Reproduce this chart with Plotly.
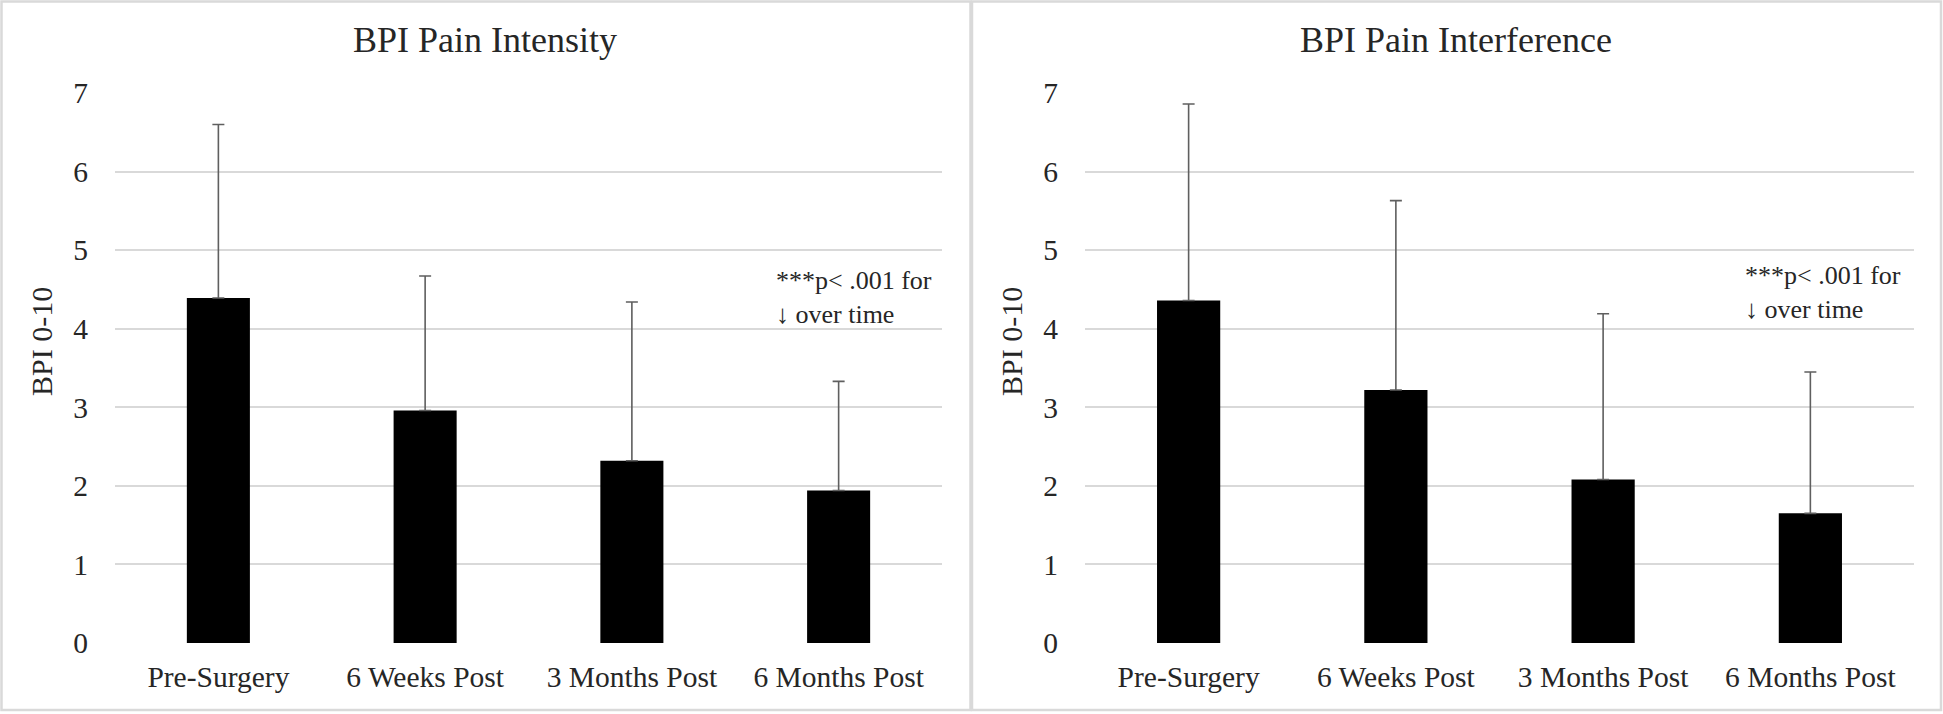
import plotly.graph_objects as go

# ---- data ----
categories = ["Pre-Surgery", "6 Weeks Post", "3 Months Post", "6 Months Post"]
intensity_mean = [4.39, 2.96, 2.32, 1.94]
intensity_sd = [2.21, 1.71, 2.02, 1.39]
interference_mean = [4.36, 3.22, 2.08, 1.65]
interference_sd = [2.50, 2.41, 2.11, 1.80]
panel_titles = ["BPI Pain Intensity", "BPI Pain Interference"]
y_title = "BPI 0-10"
note_text = "***p< .001 for<br>↓ over time"
y_ticks = [0, 1, 2, 3, 4, 5, 6, 7]

W, H = 1943, 714
FONT = "Liberation Serif, Times New Roman, serif"
TXT = "#262626"
GRID = "#d9d9d9"


def px(x):
    return x / W


def py(y):
    return 1 - y / H


fig = go.Figure()

for i, (mean, sd) in enumerate([(intensity_mean, intensity_sd),
                                (interference_mean, interference_sd)]):
    sfx = "" if i == 0 else "2"
    fig.add_trace(go.Bar(
        x=categories, y=mean,
        marker=dict(color="black", line=dict(width=0)),
        error_y=dict(type="data", array=sd, arrayminus=[0] * len(sd),
                     symmetric=False, color="#5f5f5f", thickness=1.6, width=6),
        xaxis="x" + sfx, yaxis="y" + sfx,
        showlegend=False,
    ))

xdom = [[px(115), px(942)], [px(1085), px(1914)]]
ydom = [py(643), py(93)]

layout = dict(
    width=W, height=H, autosize=False,
    margin=dict(l=0, r=0, t=0, b=0, pad=0, autoexpand=False),
    paper_bgcolor="white", plot_bgcolor="white",
    bargap=0.695,
    font=dict(family=FONT, color=TXT, size=29),
    shapes=[], annotations=[],
)

for i in range(2):
    sfx = "" if i == 0 else "2"
    layout["xaxis" + sfx] = dict(
        domain=xdom[i], anchor="y" + sfx, automargin=False,
        tickfont=dict(family=FONT, size=29.5, color=TXT),
        showgrid=False, showline=False, zeroline=False,
        ticks="outside", ticklen=8, tickcolor="rgba(0,0,0,0)",
    )
    layout["yaxis" + sfx] = dict(
        domain=ydom, anchor="x" + sfx, range=[0, 7], automargin=False,
        tickvals=y_ticks,
        tickfont=dict(family=FONT, size=29.5, color=TXT),
        showgrid=True, gridcolor=GRID, gridwidth=1.6,
        zeroline=False, showline=False,
        ticks="outside", ticklen=20, tickcolor="rgba(0,0,0,0)",
    )

# borders of the two chart boxes
for x0, x1 in [(1.5, 970.5), (972, 1941)]:
    layout["shapes"].append(dict(
        type="rect", xref="paper", yref="paper",
        x0=px(x0), x1=px(x1), y0=py(710), y1=py(1.5),
        line=dict(color=GRID, width=2.5), layer="below",
    ))

# titles
for cx, t in zip([485, 1456], panel_titles):
    layout["annotations"].append(dict(
        text=t, xref="paper", yref="paper", x=px(cx), y=py(39.5),
        xanchor="center", yanchor="middle", showarrow=False,
        font=dict(family=FONT, size=36, color=TXT),
    ))

# y-axis titles
for cx in [41, 1011]:
    layout["annotations"].append(dict(
        text=y_title, xref="paper", yref="paper", x=px(cx), y=py(342),
        xanchor="center", yanchor="middle", showarrow=False, textangle=-90,
        font=dict(family=FONT, size=30, color=TXT),
    ))

# significance notes
for lx, cy in [(774, 297), (1743, 292)]:
    layout["annotations"].append(dict(
        text=note_text, xref="paper", yref="paper", x=px(lx), y=py(cy),
        xanchor="left", yanchor="middle", align="left", showarrow=False,
        font=dict(family=FONT, size=26, color=TXT),
    ))

fig.update_layout(**layout)
fig.write_html(
    "out.html",
    config={"displayModeBar": False},
    post_script="document.body.style.margin='0px';document.body.style.overflow='hidden';",
)
